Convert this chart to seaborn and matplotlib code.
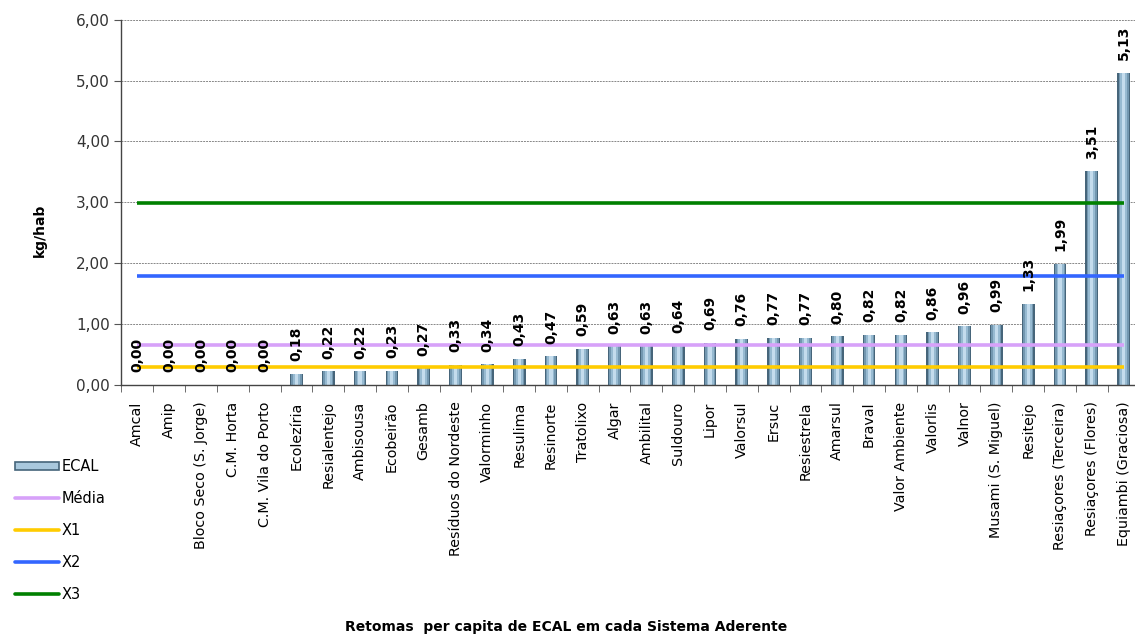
import matplotlib
matplotlib.use("Agg")
import matplotlib.pyplot as plt
import seaborn as sns
from matplotlib.patches import Patch
from matplotlib.lines import Line2D
from matplotlib.ticker import FuncFormatter, FixedLocator

# ---- data ----
categories = [
    "Amcal", "Amip", "Bloco Seco (S. Jorge)", "C.M. Horta", "C.M. Vila do Porto",
    "Ecolezíria", "Resialentejo", "Ambisousa", "Ecobeirão", "Gesamb",
    "Resíduos do Nordeste", "Valorminho", "Resulima", "Resinorte", "Tratolixo",
    "Algar", "Ambilital", "Suldouro", "Lipor", "Valorsul", "Ersuc",
    "Resiestrela", "Amarsul", "Braval", "Valor Ambiente", "Valorlis", "Valnor",
    "Musami (S. Miguel)", "Resitejo", "Resiaçores (Terceira)",
    "Resiaçores (Flores)", "Equiambi (Graciosa)",
]
ecal = [0.00, 0.00, 0.00, 0.00, 0.00, 0.18, 0.22, 0.22, 0.23, 0.27,
        0.33, 0.34, 0.43, 0.47, 0.59, 0.63, 0.63, 0.64, 0.69, 0.76, 0.77,
        0.77, 0.80, 0.82, 0.82, 0.86, 0.96, 0.99, 1.33, 1.99, 3.51, 5.13]
media = 0.65
x1 = 0.29
x2 = 1.79
x3 = 2.99

line_colors = {"Média": "#d7a1f9", "X1": "#ffcc00", "X2": "#3366ff", "X3": "#008000"}
ref_values = {"Média": media, "X1": x1, "X2": x2, "X3": x3}

sns.set_style("white")
plt.rcParams["font.family"] = ["DejaVu Sans"]
plt.rcParams["text.color"] = "black"

fig = plt.figure(figsize=(11.35, 6.37), dpi=100)
ax = fig.add_axes([0.107, 0.396, 0.897, 0.573])

# cylinder look: stacked bars of decreasing width and lighter colour
shades = [(0.40, "#46657a"), (0.32, "#7297b0"), (0.22, "#97bad1"), (0.10, "#c4dced")]
for w, c in shades:
    sns.barplot(x=categories, y=ecal, color=c, width=w, saturation=1,
                ax=ax, zorder=2, linewidth=0)

n = len(categories)
for name, val in ref_values.items():
    ax.hlines(val, 0, n - 1, color=line_colors[name], linewidth=2.6, zorder=3)

# value labels
for i, v in enumerate(ecal):
    ax.annotate(f"{v:.2f}".replace(".", ","), (i, v), xytext=(0, 9),
                textcoords="offset points", rotation=90, ha="center",
                va="bottom", fontsize=10, fontweight="bold", color="black",
                zorder=4)

ax.set_xlim(-0.5, n - 0.5)
ax.set_ylim(0, 6)
ax.yaxis.set_major_locator(FixedLocator([0, 1, 2, 3, 4, 5, 6]))
ax.yaxis.set_major_formatter(FuncFormatter(lambda v, p: f"{v:.2f}".replace(".", ",")))
ax.grid(axis="y", color="#888888", linestyle=(0, (2, 1)), linewidth=0.7, zorder=0)
ax.set_axisbelow(True)

ax.set_xticks(range(n))
ax.set_xticklabels(categories, rotation=90, fontsize=10.3, color="black")
ax.xaxis.set_minor_locator(FixedLocator([i - 0.5 for i in range(n + 1)]))
ax.tick_params(axis="x", which="major", length=0, pad=12)
ax.tick_params(axis="x", which="minor", length=5, color="#555555", bottom=True)
ax.tick_params(axis="y", which="major", length=5, color="#555555", left=True,
               labelsize=11, labelcolor="#333333")
ax.set_xlabel("")
ax.set_ylabel("")

for s in ["top", "right"]:
    ax.spines[s].set_visible(False)
for s in ["left", "bottom"]:
    ax.spines[s].set_color("#444444")
    ax.spines[s].set_linewidth(1.0)

fig.text(40 / 1135, 1 - 230 / 637, "kg/hab", rotation=90, ha="center",
         va="center", fontsize=10, fontweight="bold")
fig.text(0.499, 1 - 627 / 637, "Retomas  per capita de ECAL em cada Sistema Aderente",
         ha="center", va="center", fontsize=10, fontweight="bold")

handles = [Patch(facecolor="#a9c8dd", edgecolor="#46657a", linewidth=1.2)]
handles += [Line2D([0], [0], color=line_colors[k], linewidth=2.6) for k in ref_values]
labels = ["ECAL"] + list(ref_values)
fig.legend(handles, labels, loc="upper left", bbox_to_anchor=(0.008, 1 - 453 / 637),
           frameon=False, fontsize=10.5, handlelength=3.0, handleheight=0.5,
           handletextpad=0.2, labelspacing=1.17, borderaxespad=0)

fig.savefig("out.png", dpi=100)
